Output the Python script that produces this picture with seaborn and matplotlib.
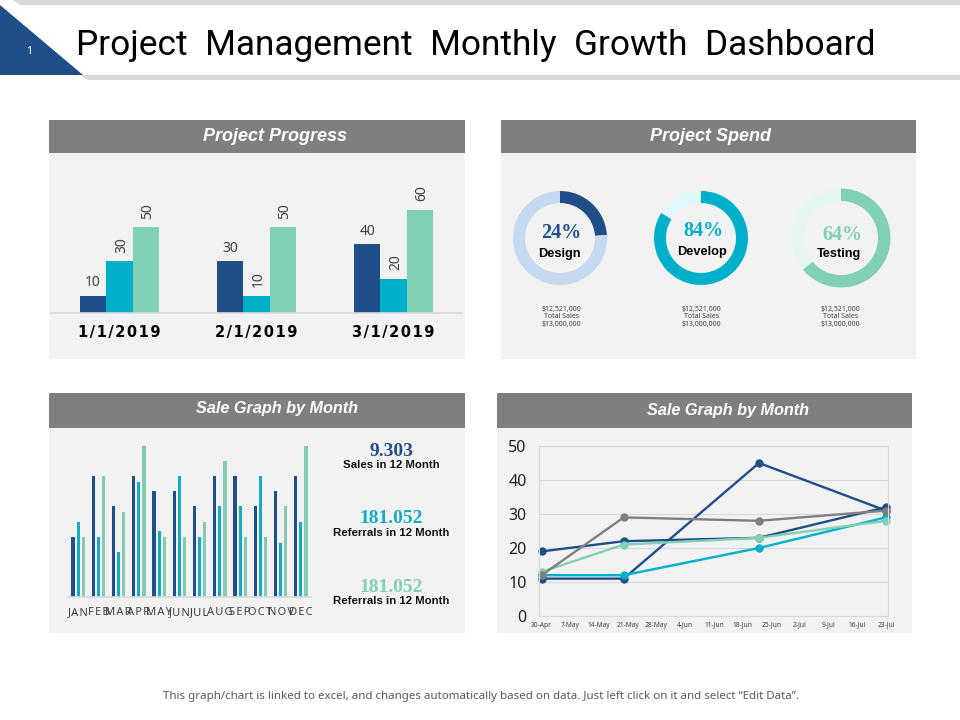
import pandas as pd
import seaborn as sns
import matplotlib
matplotlib.use("Agg")
import matplotlib.pyplot as plt
from matplotlib.patches import Polygon, Rectangle

NAVY = "#1F4E89"
TEAL = "#00B0CB"
GREEN = "#7FD0B5"
GREY = "#7F7F7F"
PANEL = "#F2F2F2"
LINE = "#D9D9D9"

# project progress
progress_dates = ["1/1/2019", "2/1/2019", "3/1/2019"]
progress_a = [10, 30, 40]
progress_b = [30, 10, 20]
progress_c = [50, 50, 60]

# project spend
spend_names = ["Design", "Develop", "Testing"]
spend_pct = [24, 84, 64]
spend_colors = [NAVY, TEAL, GREEN]
spend_tracks = ["#C5D9F1", "#E0F8FC", "#E5F6F0"]

# monthly bars
months = ["JAN", "FEB", "MAR", "APR", "MAY", "JUN", "JUL", "AUG", "SEP", "OCT", "NOV", "DEC"]
month_a = [20, 40, 30, 40, 35, 35, 30, 40, 40, 30, 35, 40]
month_b = [25, 20, 15, 38, 22, 40, 20, 30, 30, 40, 18, 25]
month_c = [20, 40, 28, 50, 20, 20, 25, 45, 20, 20, 30, 50]

# monthly lines
line_dates = ["2019-04-30", "2019-05-20", "2019-06-22", "2019-07-23"]
line_a = [11, 11, 45, 31]
line_b = [19, 22, 23, 32]
line_c = [12, 12, 20, 29]
line_d = [13, 21, 23, 28]
line_e = [12, 29, 28, 31]

sns.set_theme(style="white")
plt.rcParams["font.family"] = ["Noto Sans", "DejaVu Sans"]

fig = plt.figure(figsize=(9.6, 7.2), dpi=100, facecolor="white")


def px_axes(left, top, right, bottom):
    ax = fig.add_axes([left / 960, 1 - bottom / 720, (right - left) / 960, (bottom - top) / 720])
    ax.patch.set_alpha(0)
    return ax


def spaced(s):
    return "\u200a".join(s)


# background layer in pixel coords
bg = fig.add_axes([0, 0, 1, 1])
bg.set_xlim(0, 960)
bg.set_ylim(720, 0)
bg.axis("off")
bg.add_patch(Polygon([(13, 0), (960, 0), (960, 5), (20, 5)], color=LINE, lw=0))
bg.add_patch(Polygon([(80, 75), (960, 75), (960, 80), (88, 80)], color=LINE, lw=0))
bg.add_patch(Polygon([(0, 5), (83, 75), (0, 75)], color=NAVY, lw=0))
bg.text(29, 51, "1", color="white", fontsize=7.5, ha="center", va="center")
bg.text(76, 45.5, "Project  Management  Monthly  Growth  Dashboard", color="black",
        fontsize=25.4, family="Roboto", ha="left", va="center")

panels = [
    (49, 465, 120, 153, 359, "Project Progress", 13, 275, 136.5),
    (501, 916, 120, 153, 359, "Project Spend", 13, 710.5, 136.5),
    (49, 465, 393, 428, 633, "Sale Graph by Month", 11.7, 276.5, 409),
    (497, 912, 393, 428, 633, "Sale Graph by Month", 11.7, 728, 410),
]
for x0, x1, y0, y1, y2, title, size, tx, ty in panels:
    bg.add_patch(Rectangle((x0, y0), x1 - x0, y1 - y0, color=GREY, lw=0))
    bg.add_patch(Rectangle((x0, y1), x1 - x0, y2 - y1, color=PANEL, lw=0))
    bg.text(tx, ty, title, color="white", fontsize=size, fontweight="bold",
            fontstyle="italic", family="Liberation Sans", ha="center", va="center")

bg.text(481, 696.5, "This graph/chart is linked to excel, and changes automatically based on data. "
        "Just left click on it and select \u201cEdit Data\u201d.", color="#595959",
        fontsize=8.3, ha="center", va="center")

# Project Progress
df1 = pd.DataFrame({
    "date": progress_dates * 3,
    "value": progress_a + progress_b + progress_c,
    "series": ["a"] * 3 + ["b"] * 3 + ["c"] * 3,
})
ax1 = px_axes(51, 154, 462, 313)
sns.barplot(data=df1, x="date", y="value", hue="series", palette=[NAVY, TEAL, GREEN],
            width=0.577, gap=0, saturation=1, linewidth=0, legend=False, ax=ax1)
ax1.set_ylim(0, 159 / 1.72)
ax1.set_xlim(-0.5, 2.5)
ax1.set_xlabel("")
ax1.set_ylabel("")
ax1.set_yticks([])
ax1.set_xticks(range(3))
ax1.set_xticklabels([spaced(d) for d in progress_dates], fontsize=10.5, fontweight="bold",
                    color="#000000", family="DejaVu Sans")
ax1.tick_params(axis="x", length=0, pad=9)
sns.despine(ax=ax1, left=True)
ax1.spines["bottom"].set_color(LINE)
for cont, rot, pad, nudge in zip(ax1.containers, [0, 90, 90], [4, 6, 6], [0, 1.5, 1.5]):
    for lab in ax1.bar_label(cont, rotation=rot, padding=pad, fontsize=10, color="#404040"):
        # rotated labels sit a little right of the bar centre
        lab.xyann = (nudge, lab.xyann[1])

# Project Spend
donut_boxes = [(560, 238, 47, 35), (701, 238, 47, 35), (841, 238, 49.5, 37)]
for i, (cx, cy, r_out, r_in) in enumerate(donut_boxes):
    ax = px_axes(cx - r_out, cy - r_out, cx + r_out, cy + r_out)
    ax.pie([spend_pct[i], 100 - spend_pct[i]], colors=[spend_colors[i], spend_tracks[i]],
           startangle=90, counterclock=False, radius=1,
           wedgeprops={"width": (r_out - r_in) / r_out, "linewidth": 0})
    ax.set_xlim(-1, 1)
    ax.set_ylim(-1, 1)

spend_text = [(561.5, 233.5, 559.7, 253.5), (703, 231.5, 702.5, 252.5), (842, 235.5, 838.8, 253.5)]
sales_x = [561.7, 701.7, 840.7]
for i, (px, y_pct, nx, y_name) in enumerate(spend_text):
    bg.text(px, y_pct, f"{spend_pct[i]}%", color=spend_colors[i], fontsize=14.5,
            fontweight="bold", family="Liberation Serif", ha="center", va="center")
    bg.text(nx, y_name, spend_names[i], color="black", fontsize=9.2, fontweight="bold",
            family="Liberation Sans", ha="center", va="center")
    bg.text(sales_x[i], 317, "$12,521,000\nTotal Sales\n$13,000,000", color="#404040",
            fontsize=5, ha="center", va="center", linespacing=1.1)

# Sale Graph bars
df3 = pd.DataFrame({
    "month": months * 3,
    "value": month_a + month_b + month_c,
    "series": ["a"] * 12 + ["b"] * 12 + ["c"] * 12,
})
ax3 = px_axes(68, 440, 311, 597)
sns.barplot(data=df3, x="month", y="value", hue="series", palette=[NAVY, "#14ACC5", "#83CBB4"],
            width=0.757, gap=0.4, saturation=1, linewidth=0, legend=False, ax=ax3)
ax3.set_ylim(0, 157 / 3.02)
ax3.set_xlim(-0.5, 11.5)
ax3.set_xlabel("")
ax3.set_ylabel("")
ax3.set_yticks([])
ax3.set_xticks(range(12))
ax3.set_xticklabels([spaced(m) for m in months], fontsize=8, color="#404040")
ax3.tick_params(axis="x", length=0, pad=7.5)
sns.despine(ax=ax3, left=True)
ax3.spines["bottom"].set_color(LINE)

side_text = [
    (451.5, 465, "9.303", "Sales in 12 Month", NAVY),
    (518.5, 533, "181.052", "Referrals in 12 Month", "#14ACC5"),
    (587.5, 601, "181.052", "Referrals in 12 Month", GREEN),
]
for y_num, y_lab, num, lab, col in side_text:
    bg.text(391.5, y_num, num, color=col, fontsize=14, fontweight="bold",
            family="Liberation Serif", ha="center", va="center")
    bg.text(391.5, y_lab, lab, color="#111111", fontsize=8.2, fontweight="bold",
            family="Liberation Sans", ha="center", va="center")

# Sale Graph lines
df4 = pd.DataFrame({
    "date": pd.to_datetime(line_dates * 5),
    "value": line_a + line_b + line_c + line_d + line_e,
    "series": ["a"] * 4 + ["b"] * 4 + ["c"] * 4 + ["d"] * 4 + ["e"] * 4,
})
ax4 = px_axes(539.3, 446, 888.3, 616)
sns.lineplot(data=df4, x="date", y="value", hue="series",
             palette=[NAVY, NAVY, TEAL, GREEN, GREY], marker="o", markersize=6,
             markeredgewidth=0, linewidth=1.7, legend=False, ax=ax4)
for ln in ax4.lines:
    ln.set_clip_on(False)
tick_dates = pd.date_range(line_dates[0], line_dates[-1], freq="7D")
ax4.set_xticks(tick_dates)
ax4.set_xticklabels([d.strftime("%-d-%b") for d in tick_dates], fontsize=4.8, color="#404040")
ax4.set_xlim(tick_dates[0] - pd.Timedelta(days=0.6), tick_dates[-1] + pd.Timedelta(days=0.56))
ax4.set_ylim(0, 50)
ax4.set_yticks([0, 10, 20, 30, 40, 50])
ax4.tick_params(axis="y", length=0, labelsize=11.5, labelcolor="#222222", pad=9)
ax4.tick_params(axis="x", length=0, pad=4)
ax4.set_xlabel("")
ax4.set_ylabel("")
ax4.grid(axis="y", color=LINE, lw=0.8)
ax4.grid(axis="x", visible=False)
for sp in ax4.spines.values():
    sp.set_color(LINE)
    sp.set_linewidth(0.8)

fig.savefig("out.png", dpi=100)
